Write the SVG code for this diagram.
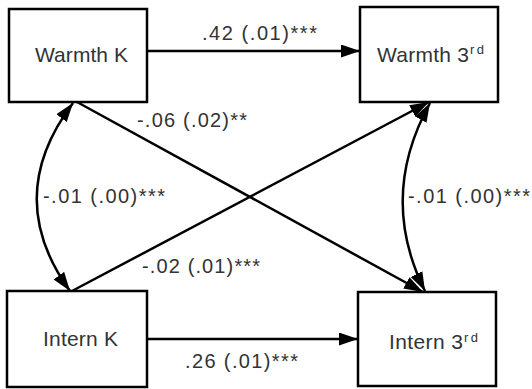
<svg xmlns="http://www.w3.org/2000/svg" width="532" height="389" viewBox="0 0 532 389">
  <style>
    .box { fill: #ffffff; stroke: #000000; stroke-width: 2.5; }
    .node-label { font-family: "Liberation Sans", Arial, sans-serif; font-size: 21px; fill: #333333; }
    .sup { font-family: "Liberation Sans", Arial, sans-serif; font-size: 13px; fill: #333333; }
    .edge { fill: none; stroke: #000000; stroke-width: 2.5; }
    .edge-label { font-family: "Liberation Sans", Arial, sans-serif; font-size: 20px; fill: #333333; }
  </style>
  <defs>
    <marker id="arrow" markerUnits="userSpaceOnUse" markerWidth="20" markerHeight="14" refX="19" refY="6.5" orient="auto-start-reverse">
      <path d="M0,0 L19,6.5 L0,13 z" fill="#000000"/>
    </marker>
  </defs>
  <rect width="532" height="389" fill="#ffffff"/>

  <g id="connectors">
    <!-- regression paths -->
    <line class="edge" x1="147" y1="51" x2="360" y2="51" marker-end="url(#arrow)"/>
    <line class="edge" x1="147" y1="339" x2="358" y2="339" marker-end="url(#arrow)"/>
    <line class="edge" x1="77" y1="102" x2="423" y2="292" marker-end="url(#arrow)"/>
    <line class="edge" x1="72" y1="291" x2="429" y2="102" marker-end="url(#arrow)"/>
    <!-- covariances -->
    <path class="edge" d="M73,103 Q2,197 70,291" marker-start="url(#arrow)" marker-end="url(#arrow)"/>
    <path class="edge" d="M430,103 Q378,197 425,291" marker-start="url(#arrow)" marker-end="url(#arrow)"/>

    <text class="edge-label" x="202" y="40" textLength="115">.42 (.01)***</text>
    <text class="edge-label" x="137" y="127" textLength="110">-.06 (.02)**</text>
    <text class="edge-label" x="43" y="203" textLength="122">-.01 (.00)***</text>
    <text class="edge-label" x="408" y="203" textLength="122">-.01 (.00)***</text>
    <text class="edge-label" x="142" y="273" textLength="118">-.02 (.01)***</text>
    <text class="edge-label" x="185" y="368" textLength="113">.26 (.01)***</text>
  </g>

  <g id="warmth-k">
    <rect class="box" x="9" y="9" width="138" height="93"/>
    <text class="node-label" x="35" y="62" textLength="93">Warmth K</text>
  </g>

  <g id="warmth-3rd">
    <rect class="box" x="360" y="7" width="138" height="95"/>
    <text class="node-label" x="377" y="62" textLength="92">Warmth 3</text>
    <text class="sup" x="470" y="54" textLength="14">rd</text>
  </g>

  <g id="intern-k">
    <rect class="box" x="7" y="291" width="140" height="96"/>
    <text class="node-label" x="43" y="346" textLength="75">Intern K</text>
  </g>

  <g id="intern-3rd">
    <rect class="box" x="358" y="292" width="138" height="94"/>
    <text class="node-label" x="389" y="349" textLength="74">Intern 3</text>
    <text class="sup" x="464" y="342" textLength="14">rd</text>
  </g>
</svg>
